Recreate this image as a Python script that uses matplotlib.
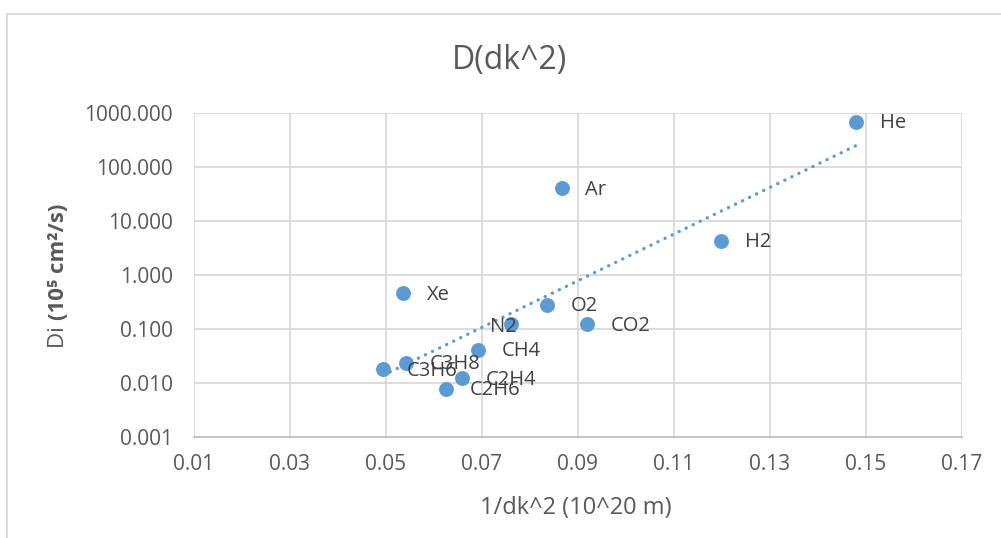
import numpy as np
import matplotlib
matplotlib.use("Agg")
import matplotlib.pyplot as plt
from matplotlib.lines import Line2D

gases = ["He", "Ar", "H2", "O2", "CO2", "Xe", "N2", "CH4", "C3H8", "C3H6", "C2H4", "C2H6"]
inv_dk2 = [0.1479, 0.0866, 0.1198, 0.0836, 0.0918, 0.0536, 0.0760, 0.0692, 0.0542, 0.0494, 0.0658, 0.0625]
diff = [690.0, 40.4, 4.26, 0.278, 0.122, 0.458, 0.124, 0.0409, 0.0238, 0.0179, 0.0122, 0.00774]
xticks = [0.01, 0.03, 0.05, 0.07, 0.09, 0.11, 0.13, 0.15, 0.17]
yticks = [0.001, 0.01, 0.1, 1, 10, 100, 1000]

FONT = ["Open Sans", "DejaVu Sans"]
plt.rcParams["font.family"] = FONT
TXT = "#595959"
BLUE = "#5b9bd5"
GRID = "#d9d9d9"

W, H = 1001, 538
fig = plt.figure(figsize=(W / 100, H / 100), dpi=100)
ax = fig.add_axes([194 / W, 1 - 437 / H, (962 - 194) / W, (437 - 113) / H])

ax.set_yscale("log")
ax.set_xlim(0.01, 0.17)
ax.set_ylim(0.001, 1000)
ax.set_xticks(xticks)
ax.set_xticklabels([f"{t:.2f}" for t in xticks])
ax.set_yticks(yticks)
ax.set_yticklabels([f"{t:.3f}" for t in yticks])
ax.yaxis.set_minor_locator(matplotlib.ticker.NullLocator())
ax.grid(True, color=GRID, linewidth=1.3)
ax.set_axisbelow(True)
for s in ["top", "right", "left"]:
    ax.spines[s].set_visible(False)
ax.spines["bottom"].set_color("#bfbfbf")
ax.spines["bottom"].set_linewidth(1.3)
ax.tick_params(length=0, labelsize=15, colors=TXT)
ax.tick_params(axis="y", pad=15)
ax.tick_params(axis="x", pad=12)

# exponential trendline
x = np.array(inv_dk2)
y = np.array(diff)
b, a = np.polyfit(x, np.log(y), 1)
xs = np.linspace(x.min(), x.max(), 200)
ax.plot(xs, np.exp(a + b * xs), color=BLUE, linewidth=2.4,
        linestyle=(0, (0.05, 2.3)), dash_capstyle="round", zorder=2)

ax.scatter(x, y, s=115, color=BLUE, zorder=3, linewidths=0)
special = {"N2": (-15, -2)}
for g, xi, yi in zip(gases, x, y):
    off = special.get(g, (17, -1))
    ax.annotate(g, (xi, yi), xytext=off, textcoords="offset points",
                ha="left", va="center", fontsize=14.5, color="#404040", zorder=4)

fig.text(510 / W, 1 - 60 / H, "D(dk^2)", ha="center", va="center",
         fontsize=23, color=TXT)
fig.text(576 / W, 1 - 508 / H, "1/dk^2 (10^20 m)", ha="center", va="center",
         fontsize=17, color=TXT)

# y label: "Di " normal, rest bold, placed contiguously
y0 = 1 - 348 / H
t1 = fig.text(58 / W, y0, "Di ", rotation=90, ha="center", va="bottom",
              fontsize=16, color=TXT)
fig.canvas.draw()
bb = t1.get_window_extent(fig.canvas.get_renderer())
ytop = bb.y1 / H
fig.text(58 / W, ytop, "(10\u2075 cm\u00b2/s)", rotation=90, ha="center", va="bottom",
         fontsize=16, color=TXT, fontweight="bold", family=FONT)

# chart border
fig.add_artist(Line2D([7 / W, 7 / W], [0, 1 - 14 / H], transform=fig.transFigure,
                      color="#d9d9d9", linewidth=1.3))
fig.add_artist(Line2D([7 / W, 1], [1 - 14 / H, 1 - 14 / H], transform=fig.transFigure,
                      color="#d9d9d9", linewidth=1.3))

fig.savefig("out.png", dpi=100)
